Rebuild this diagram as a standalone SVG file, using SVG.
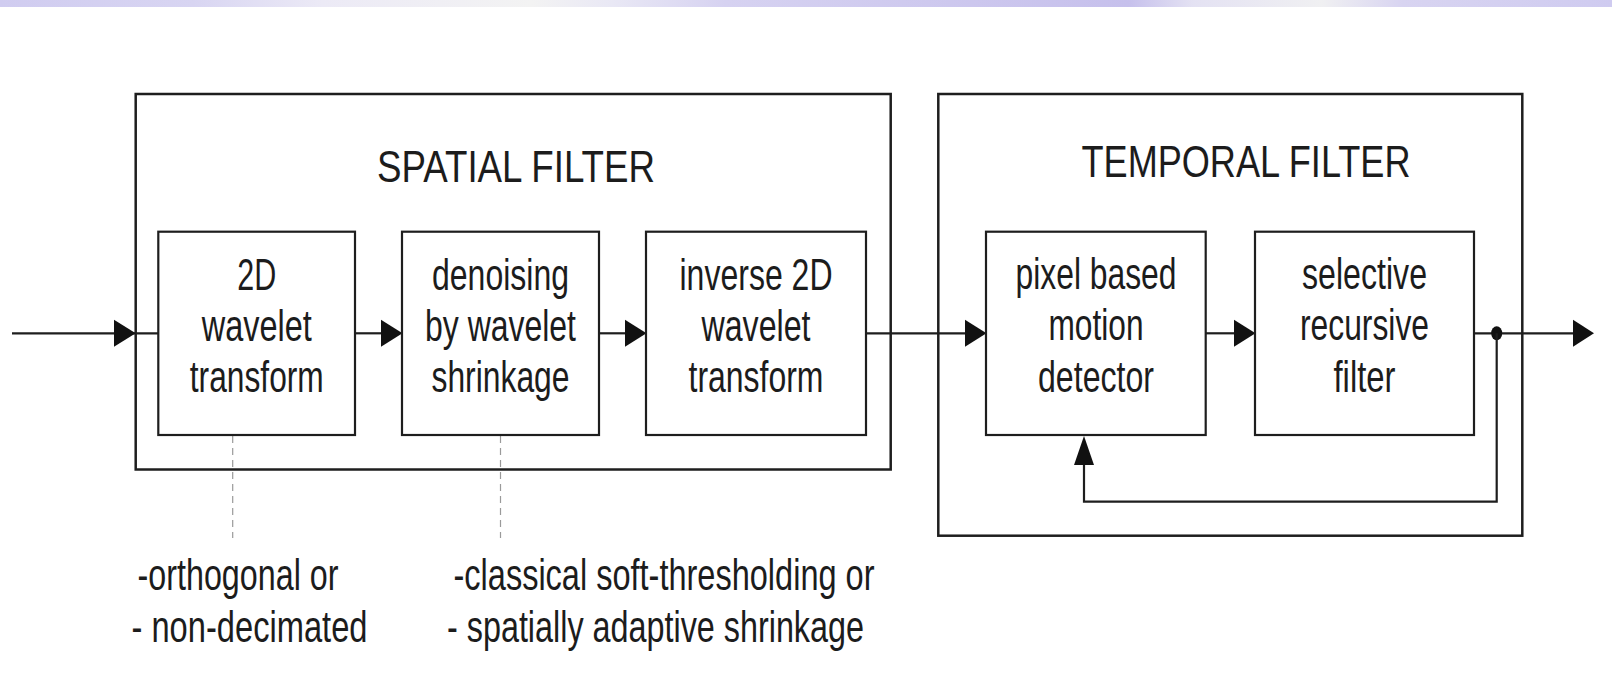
<svg xmlns="http://www.w3.org/2000/svg" width="1612" height="675" viewBox="0 0 1612 675">
<style>
.frame{fill:none;stroke:#1e1e1e;stroke-width:2.5}
.box{fill:#fff;stroke:#1e1e1e;stroke-width:2.2}
.wire{fill:none;stroke:#1e1e1e;stroke-width:2.2}
.dash{fill:none;stroke:#9a9a9a;stroke-width:1.2;stroke-dasharray:7 5}
.head{fill:#111}
text{font-family:"Liberation Sans",Arial,sans-serif;fill:#1c1c1c}
.lbl{font-size:44px;text-anchor:middle}
.ttl{font-size:45px;text-anchor:middle}
.note{font-size:44px;text-anchor:start}
</style>
<defs>
<linearGradient id="band" x1="0" y1="0" x2="1612" y2="0" gradientUnits="userSpaceOnUse">
<stop offset="0" stop-color="#d0ccf0"/>
<stop offset="0.12" stop-color="#d8d5f2"/>
<stop offset="0.2" stop-color="#eceaf6"/>
<stop offset="0.33" stop-color="#f3f3f3"/>
<stop offset="0.38" stop-color="#e9e8f5"/>
<stop offset="0.45" stop-color="#d6d2f1"/>
<stop offset="0.7" stop-color="#c6c0ec"/>
<stop offset="0.74" stop-color="#e4e2f3"/>
<stop offset="0.82" stop-color="#f0f0f2"/>
<stop offset="0.87" stop-color="#d8d4f1"/>
<stop offset="1" stop-color="#cfcbf0"/>
</linearGradient>
</defs>
<rect x="0" y="0" width="1612" height="675" fill="#fff"/>
<rect x="0" y="0" width="1612" height="7" fill="url(#band)"/>

<g id="spatial-filter">
<rect class="frame" x="135.7" y="94" width="755" height="375.5"/>
<text class="ttl" x="516" y="181.5" textLength="278" lengthAdjust="spacingAndGlyphs">SPATIAL FILTER</text>
</g>
<g id="temporal-filter">
<rect class="frame" x="938.3" y="94" width="584" height="441.7"/>
<text class="ttl" x="1246" y="177.3" textLength="329" lengthAdjust="spacingAndGlyphs">TEMPORAL FILTER</text>
</g>

<g id="connectors">
<line class="wire" x1="12" y1="333.3" x2="158.3" y2="333.3"/>
<polygon class="head" points="114,319.8 135.7,333.3 114,346.8"/>
<line class="wire" x1="355" y1="333.3" x2="384" y2="333.3"/>
<polygon class="head" points="381,319.8 402.5,333.3 381,346.8"/>
<line class="wire" x1="599" y1="333.3" x2="628" y2="333.3"/>
<polygon class="head" points="625,319.8 646.5,333.3 625,346.8"/>
<line class="wire" x1="866" y1="333.3" x2="968" y2="333.3"/>
<polygon class="head" points="965,319.8 986.5,333.3 965,346.8"/>
<line class="wire" x1="1205.7" y1="333.3" x2="1237" y2="333.3"/>
<polygon class="head" points="1234,319.8 1255.5,333.3 1234,346.8"/>
<line class="wire" x1="1474" y1="333.3" x2="1576" y2="333.3"/>
<polygon class="head" points="1573,319.8 1594,333.3 1573,346.8"/>
<ellipse class="head" cx="1496.7" cy="333.3" rx="5.5" ry="7"/>
<polyline class="wire" points="1496.7,333.3 1496.7,501.7 1084,501.7 1084,462"/>
<polygon class="head" points="1074,465 1084,436 1094,465"/>
<line class="dash" x1="232.7" y1="436" x2="232.7" y2="538"/>
<line class="dash" x1="500.5" y1="436" x2="500.5" y2="538"/>
</g>

<g id="wavelet-transform">
<rect class="box" x="158.3" y="231.7" width="196.7" height="203.3"/>
<text class="lbl" x="256.8" y="290" textLength="39" lengthAdjust="spacingAndGlyphs">2D</text>
<text class="lbl" x="256.8" y="340.5" textLength="110" lengthAdjust="spacingAndGlyphs">wavelet</text>
<text class="lbl" x="256.8" y="391.7" textLength="134" lengthAdjust="spacingAndGlyphs">transform</text>
</g>
<g id="denoising">
<rect class="box" x="402" y="231.7" width="197" height="203.3"/>
<text class="lbl" x="500.5" y="290" textLength="137" lengthAdjust="spacingAndGlyphs">denoising</text>
<text class="lbl" x="500.5" y="340.5" textLength="151" lengthAdjust="spacingAndGlyphs">by wavelet</text>
<text class="lbl" x="500.5" y="391.7" textLength="138" lengthAdjust="spacingAndGlyphs">shrinkage</text>
</g>
<g id="inverse-transform">
<rect class="box" x="646" y="231.7" width="220" height="203.3"/>
<text class="lbl" x="756" y="290" textLength="153" lengthAdjust="spacingAndGlyphs">inverse 2D</text>
<text class="lbl" x="756" y="340.5" textLength="109" lengthAdjust="spacingAndGlyphs">wavelet</text>
<text class="lbl" x="756" y="391.7" textLength="135" lengthAdjust="spacingAndGlyphs">transform</text>
</g>
<g id="motion-detector">
<rect class="box" x="986" y="231.7" width="219.7" height="203.3"/>
<text class="lbl" x="1096" y="288.5" textLength="161" lengthAdjust="spacingAndGlyphs">pixel based</text>
<text class="lbl" x="1096" y="340" textLength="95" lengthAdjust="spacingAndGlyphs">motion</text>
<text class="lbl" x="1096" y="391.7" textLength="116" lengthAdjust="spacingAndGlyphs">detector</text>
</g>
<g id="recursive-filter">
<rect class="box" x="1255" y="231.7" width="219" height="203.3"/>
<text class="lbl" x="1364.5" y="288.5" textLength="125" lengthAdjust="spacingAndGlyphs">selective</text>
<text class="lbl" x="1364.5" y="340" textLength="129" lengthAdjust="spacingAndGlyphs">recursive</text>
<text class="lbl" x="1364.5" y="391.7" textLength="62" lengthAdjust="spacingAndGlyphs">filter</text>
</g>

<g id="notes">
<text class="note" x="137.5" y="590" textLength="201" lengthAdjust="spacingAndGlyphs">-orthogonal or</text>
<text class="note" x="131.5" y="642" textLength="236" lengthAdjust="spacingAndGlyphs">- non-decimated</text>
<text class="note" x="453.5" y="590" textLength="421" lengthAdjust="spacingAndGlyphs">-classical soft-thresholding or</text>
<text class="note" x="447" y="642" textLength="417" lengthAdjust="spacingAndGlyphs">- spatially adaptive shrinkage</text>
</g>
</svg>
